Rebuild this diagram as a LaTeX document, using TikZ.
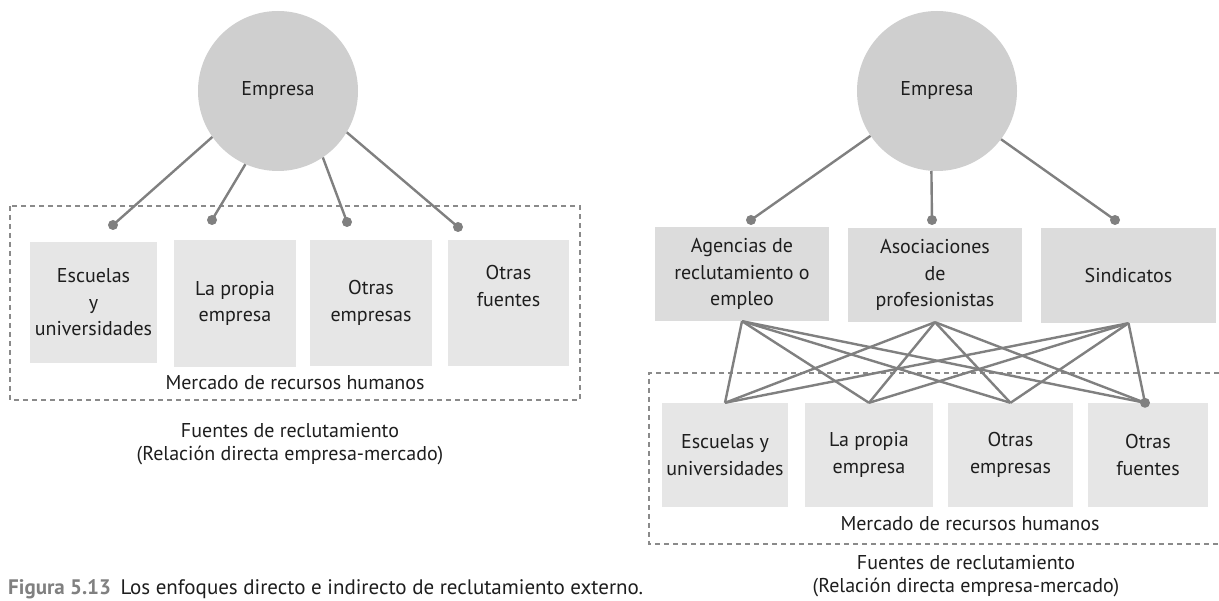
\documentclass[tikz,border=0pt]{standalone}
\usepackage{fontspec}
\setmainfont{PT Sans}
\definecolor{circgray}{HTML}{CFCFCF}
\definecolor{boxdark}{HTML}{DCDCDC}
\definecolor{boxlight}{HTML}{E6E6E6}
\definecolor{linegray}{HTML}{808080}
\definecolor{dashgray}{HTML}{8A8A8A}
\definecolor{textc}{HTML}{1E1E1E}
\newcommand{\lblfont}{\fontsize{20}{26.5}\selectfont}
\newcommand{\capfont}{\fontsize{20}{23}\selectfont}
\newcommand{\figfont}{\fontsize{21}{23}\selectfont}
\tikzset{
  conn/.style={draw=linegray, line width=2.4pt},
  dotn/.style={circle, fill=linegray, inner sep=0pt, minimum size=10pt},
  bubble/.style={circle, fill=circgray, minimum size=160pt, inner sep=0pt, text=textc, font=\lblfont},
  topbox/.style={fill=boxdark, inner sep=0pt, align=center, text=textc, font=\lblfont},
  botbox/.style={fill=boxlight, inner sep=0pt, align=center, text=textc, font=\lblfont},
  frame/.style={draw=dashgray, line width=2pt, dash pattern=on 5pt off 4pt},
  txt/.style={inner sep=0pt, align=center, text=textc, font=\capfont}
}
\begin{document}
\begin{tikzpicture}[x=1pt,y=-1pt]
\useasboundingbox[fill=white] (0,0) rectangle (1219,601);

% ---------------- left diagram ----------------
\draw[frame] (10,206) rectangle (580,400);
\node[bubble] (E1) at (278,91) {Empresa};
\node[dotn] (d1) at (113,225) {};
\node[dotn] (d2) at (212,220) {};
\node[dotn] (d3) at (347,222) {};
\node[dotn] (d4) at (458,227) {};
\draw[conn] (E1.215.5) -- (d1.center);
\draw[conn] (E1.246.6) -- (d2.center);
\draw[conn] (E1.304.9) -- (d3.center);
\draw[conn] (E1.329) -- (d4.center);

\node[botbox, minimum width=127pt, minimum height=121pt] (lb1) at (93.5,302.5) {Escuelas\\y\\universidades};
\node[botbox, minimum width=122pt, minimum height=127pt] (lb2) at (235,303.5) {La propia\\empresa};
\node[botbox, minimum width=122pt, minimum height=126pt] (lb3) at (371,303) {Otras\\empresas};
\node[botbox, minimum width=121pt, minimum height=126pt] (lb4) at (508.5,303) {Otras\\fuentes\\[8pt]};
\node[txt] (lm) at (295,383) {Mercado de recursos humanos};
\node[txt] (lc) at (290,444.5) {Fuentes de reclutamiento\\(Relación directa empresa-mercado)};

% ---------------- right diagram ----------------
\draw[frame] (1219,373) -- (649,373) -- (649,544) -- (1219,544);
\node[bubble] (E2) at (937,91) {Empresa};
\node[dotn] (r1) at (751,220) {};
\node[dotn] (r2) at (932,220) {};
\node[dotn] (r3) at (1115,220) {};
\draw[conn] (E2.214.7) -- (r1.center);
\draw[conn] (E2.266) -- (r2.center);
\draw[conn] (E2.323.7) -- (r3.center);

\node[topbox, minimum width=174pt, minimum height=94pt] (t1) at (742,274) {Agencias de\\reclutamiento o\\empleo};
\node[topbox, minimum width=174pt, minimum height=94pt] (t2) at (935,275) {Asociaciones\\de\\profesionistas};
\node[topbox, minimum width=175pt, minimum height=95pt] (t3) at (1128.5,275.5) {Sindicatos};

\node[botbox, minimum width=126pt, minimum height=104pt] (b1) at (725,455) {Escuelas y\\universidades};
\node[botbox, minimum width=128pt, minimum height=104pt] (b2) at (869,455) {La propia\\empresa};
\node[botbox, minimum width=125pt, minimum height=104pt] (b3) at (1010.5,455) {Otras\\empresas};
\node[botbox, minimum width=120pt, minimum height=104pt] (b4) at (1148,455) {Otras\\fuentes};

\foreach \t in {t1,t2,t3}{
  \foreach \b in {b1,b2,b3}{
    \draw[conn] (\t.south) -- (\b.north);
  }
  \draw[conn] (\t.south) -- ([xshift=-3pt]b4.north);
}
\node[dotn] (r4) at ([xshift=-3pt]b4.north) {};

\node[txt] (rm) at (970,524) {Mercado de recursos humanos};
\node[txt] (rc) at (966,576.5) {Fuentes de reclutamiento\\(Relación directa empresa-mercado)};

% ---------------- caption ----------------
\node[txt, anchor=west, font=\figfont] (cap) at (8,589) {{\color{linegray}\bfseries Figura 5.13}\hspace{0.45em}Los enfoques directo e indirecto de reclutamiento externo.};
\end{tikzpicture}
\end{document}
